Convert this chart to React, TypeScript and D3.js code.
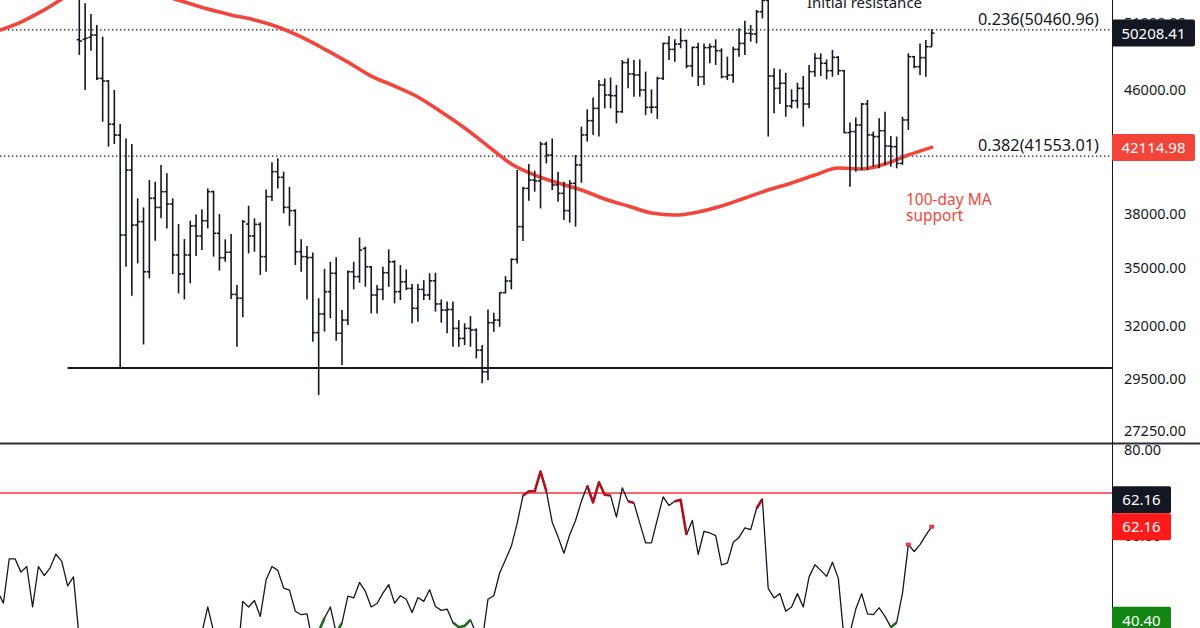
import React, { useRef, useEffect } from "react";
import * as d3 from "d3";

// daily OHLC bars: [open, high, low, close]
type Bar = [number, number, number, number];

const bars: Bar[] = [
  [49700, 53200, 48550, 49600], [49730, 52560, 46000, 49810], [49880, 51710, 48870, 50060],
  [50060, 50840, 46710, 46830], [46830, 49930, 43810, 46640], [46640, 46710, 42160, 43640],
  [43640, 46000, 42330, 42920], [42920, 43650, 30000, 36800], [36800, 42700, 35050, 40670],
  [40670, 42330, 33520, 37370], [37370, 38940, 35230, 37570], [37570, 38400, 31100, 34780],
  [34780, 40050, 34430, 38940], [38940, 39950, 36480, 38400], [38400, 40990, 37760, 39340],
  [39340, 40470, 37180, 38600], [38600, 38940, 34660, 35690], [35690, 37430, 33640, 34660],
  [34660, 36580, 33330, 35690], [35690, 37620, 34170, 37320], [37320, 37990, 35630, 36750],
  [36750, 38290, 35960, 37620], [37620, 39540, 37180, 39340], [39340, 39400, 35600, 36900],
  [36900, 38010, 34840, 35540], [35540, 36560, 35320, 35840], [35840, 36860, 33350, 33590],
  [33590, 34080, 30990, 33390], [33390, 37660, 32430, 37570], [37430, 38500, 35780, 36750],
  [36750, 37760, 35870, 37410], [37410, 37530, 34610, 35600], [35600, 39480, 34780, 39040],
  [39040, 41160, 38780, 40570], [40570, 41410, 39540, 40220], [40220, 40570, 38050, 38400],
  [38400, 39640, 37320, 38210], [38210, 38290, 35140, 35870], [35870, 36560, 34780, 35600],
  [35600, 36190, 33330, 35550], [35550, 35820, 31230, 31670], [31670, 33390, 28770, 32590],
  [32590, 34940, 31720, 33730], [33730, 35320, 32380, 34700], [34700, 35560, 31280, 31640],
  [31640, 32790, 30130, 32290], [32290, 34850, 32050, 34780], [34780, 35320, 33850, 34520],
  [34520, 36660, 34200, 35960], [36050, 36150, 33990, 35050], [35050, 35090, 32620, 33560],
  [33560, 34080, 32620, 33850], [33850, 35050, 33300, 34730], [34730, 36000, 33990, 35320],
  [35320, 35400, 33130, 33730], [33730, 35140, 33300, 34250], [34250, 34910, 33820, 33900],
  [33900, 34130, 32130, 32880], [32880, 34130, 32210, 33850], [33850, 34340, 33300, 33560],
  [33560, 34700, 33300, 34300], [34300, 34730, 32710, 33100], [33100, 33330, 32160, 32790],
  [32790, 33220, 31640, 32820], [32820, 33220, 30990, 31880], [31880, 32290, 30990, 31390],
  [31390, 32130, 31070, 31880], [31880, 32490, 30990, 31800], [31800, 31880, 30440, 30830],
  [30830, 31070, 29300, 29820], [29820, 32820, 29440, 32160], [32160, 32660, 31720, 32290],
  [32290, 33700, 31960, 33680], [33680, 34550, 33650, 34290], [34290, 35500, 33850, 35450],
  [35450, 40670, 35230, 37280], [37280, 39640, 36460, 39540], [39540, 41050, 38800, 40050],
  [40050, 40630, 39340, 40000], [40000, 42490, 38340, 42330], [42330, 42490, 41090, 41620],
  [41620, 42700, 39440, 39750], [39750, 40570, 38740, 39240], [39240, 39950, 37660, 38210],
  [38210, 40050, 37510, 39850], [39850, 41620, 37280, 40990], [40990, 43480, 39890, 42930],
  [42930, 44650, 42490, 43880], [43880, 45480, 42930, 44720], [44720, 46710, 42820, 46360],
  [46360, 46830, 44720, 45650], [45650, 46900, 44720, 45600], [45600, 46360, 43700, 44490],
  [44490, 48170, 44420, 47980], [47980, 48300, 46120, 47150], [47150, 48170, 45530, 47080],
  [47080, 48220, 45530, 46000], [46000, 47320, 44260, 44790], [44790, 46050, 44380, 44800],
  [44800, 46950, 43990, 46830], [46830, 49470, 46710, 49420], [49420, 49990, 48170, 48970],
  [48970, 49730, 48050, 49370], [49370, 50580, 49050, 49630], [49630, 49700, 47560, 47730],
  [47730, 49170, 46950, 49120], [49120, 49470, 46290, 46950], [46950, 49420, 46360, 49100],
  [49100, 49420, 47930, 49170], [49170, 49730, 47810, 48870], [48870, 49050, 46830, 46950],
  [46950, 48420, 46710, 47070], [47070, 49170, 46520, 48970], [48970, 50580, 48420, 49420],
  [49420, 51180, 48550, 50190], [50190, 50840, 49550, 50140], [50140, 52030, 49420, 51890],
  [51890, 53300, 51360, 52800], [52800, 53300, 42820, 47000], [47000, 47560, 44380, 46120],
  [46120, 47490, 45020, 46480], [46480, 47240, 44150, 44880], [44880, 46050, 44720, 45250],
  [45250, 46520, 44720, 46120], [46120, 47000, 43480, 45020], [45020, 47810, 44720, 47320],
  [47320, 48670, 46950, 48300], [48300, 48670, 47000, 47930], [47930, 48220, 46760, 47390],
  [47390, 48920, 46950, 48370], [48370, 48470, 47070, 47390], [47390, 47440, 43040, 43080],
  [43080, 43750, 39640, 43150], [43150, 44100, 40570, 43590], [43590, 45100, 40670, 45020],
  [45020, 45300, 40670, 42930], [42930, 43150, 40880, 42820], [42820, 44040, 40780, 43210],
  [43210, 44490, 40990, 42200], [42200, 42860, 40880, 42160], [42160, 42820, 40780, 41090],
  [41090, 44150, 41000, 43930], [43930, 48670, 43260, 48420], [48420, 48470, 47560, 47680],
  [47680, 49420, 47070, 48350], [48350, 49680, 46950, 49170], [49170, 50500, 49170, 50208.41],
];

// 100-day moving average, read every 4th bar (bar index, value)
const maIdx = [
  -14, -10, -6, -2, 2, 6, 10, 14, 18, 22, 26, 30, 34, 38, 42, 46, 50, 54, 58, 62, 66,
  70, 74, 78, 82, 86, 90, 94, 98, 102, 106, 110, 114, 118, 122, 126, 130, 134, 138, 142, 146,
];
const maValues = [
  50370, 51070, 52030, 53160, 53820, 53980, 53650, 53240, 52670, 52100, 51630, 51230, 50680,
  49910, 48990, 48020, 47000, 46280, 45510, 44470, 43390, 42200, 41050, 40360, 39870, 39440,
  38900, 38480, 38070, 37950, 38130, 38480, 38960, 39440, 39870, 40360, 40800, 40740, 41050,
  41620, 42114.98,
];

// RSI, one value per bar starting 14 bars before the first drawn bar
const rsiStart = -14;
const rsiValues = [
  47.1, 44.4, 54.7, 54.7, 51.6, 52.9, 43.5, 52.9, 50.8, 52.6, 55.8, 54.1, 48.4, 50.5,
  36, 37, 38, 30, 29, 25, 24, 19, 30, 27, 27, 23, 31, 32, 34, 33, 29, 27, 30, 33, 32,
  37.5, 43.5, 37.8, 34.5, 35, 31, 30, 44.8, 43.5, 45.0, 41.3, 49.8, 52.9, 52.0, 47.9, 47.4,
  42.5, 41.7, 41.9, 35, 37.8, 40.9, 43.5, 37.5, 39.8, 46.0, 45.6, 49.2, 47.1, 43.5, 44.3,
  46.7, 48.7, 44.4, 46.1, 45.3, 42.2, 45.7, 44.8, 47.5, 43.6, 42.7, 43.0, 39.9, 38.8, 39.1,
  40.5, 37.2, 35.5, 45.3, 46.1, 51.4, 54.5, 57.6, 63.0, 69.4, 70.4, 70.4, 75.0, 70.4, 63.2,
  59.8, 56.0, 60.3, 63.6, 68.1, 71.7, 67.8, 72.5, 69.6, 69.4, 64.4, 71.2, 68.1, 67.7, 63.0,
  58.4, 58.4, 63.8, 69.1, 67.1, 68.1, 68.4, 60.3, 63.6, 55.7, 61.1, 60.7, 60.1, 53.3, 53.7,
  58.5, 59.7, 61.9, 61.5, 66.4, 68.6, 47.8, 45.6, 46.6, 42.5, 43.5, 46.6, 43.5, 50.5, 53.3,
  52.0, 50.6, 53.9, 50.2, 36, 37.5, 43.0, 46.6, 41.9, 41.7, 43.3, 41.3, 38.8, 39.9, 46.7,
  58.0, 56.4, 58.0, 60.2, 62.16,
];
const rsiRedSpans: [number, number][] = [
  [76, 80], [87, 91], [94, 95], [102, 104], [116, 117], [142, 142], [146, 146],
];
const rsiGreenSpans: [number, number][] = [[41, 42], [44, 45], [64, 67], [139, 140]];

const priceTicks = [27250, 29500, 32000, 35000, 38000, 42000, 46000, 51000];
const rsiTicks = [40, 60, 80];
const fibLevels = [
  { ratio: "0.236", price: 50460.96 },
  { ratio: "0.382", price: 41553.01 },
];
const supportPrice = 30000;
const supportFrom = -2;
const rsiLevel = 70;
const lastPrice = 50208.41;
const lastMa = 42114.98;
const lastRsi = 62.16;
const rsiMark = 40.4;

const App: React.FC = () => {
  const svgRef = useRef<SVGSVGElement>(null);

  useEffect(() => {
    if (!svgRef.current) return;
    const svg = d3.select(svgRef.current);
    svg.selectAll("*").remove();

    const font = "'Noto Sans', sans-serif";
    const ink = "#131722";
    const maRed = "#f2463a";
    const axisX = 1112;
    const paneBottom = 443;

    const x = d3.scaleLinear().domain([0, bars.length - 1]).range([79.3, 931.7]);
    const y = d3.scaleLog().domain([26726, 52832]).range([paneBottom, 0]);
    const yr = d3.scaleLinear().domain([30, 80]).range([665, 450]);

    svg.append("rect").attr("width", 1200).attr("height", 628).attr("fill", "#fff");

    const defs = svg.append("defs");
    defs.append("clipPath").attr("id", "clip-main")
      .append("rect").attr("x", 0).attr("y", 0).attr("width", axisX).attr("height", paneBottom);
    defs.append("clipPath").attr("id", "clip-rsi")
      .append("rect").attr("x", 0).attr("y", paneBottom + 1).attr("width", axisX).attr("height", 628 - paneBottom);

    const main = svg.append("g").attr("clip-path", "url(#clip-main)");

    // fib retracement levels
    fibLevels.forEach((f) => {
      main.append("line")
        .attr("x1", 0).attr("x2", axisX)
        .attr("y1", y(f.price)).attr("y2", y(f.price))
        .attr("stroke", ink).attr("stroke-width", 1.4)
        .attr("stroke-dasharray", "1.4 2.6");
      main.append("text")
        .attr("x", 1099).attr("y", y(f.price) - 5)
        .attr("text-anchor", "end")
        .attr("font-family", font).attr("font-size", 16.3).attr("fill", ink)
        .text(`${f.ratio}(${f.price.toFixed(2)})`);
    });

    // support line
    main.append("line")
      .attr("x1", x(supportFrom)).attr("x2", axisX)
      .attr("y1", y(supportPrice)).attr("y2", y(supportPrice))
      .attr("stroke", ink).attr("stroke-width", 2);

    // 100-day MA
    const maLine = d3.line<number>()
      .x((_, i) => x(maIdx[i]))
      .y((d) => y(d))
      .curve(d3.curveMonotoneX);
    main.append("path")
      .attr("d", maLine(maValues) ?? "")
      .attr("fill", "none").attr("stroke", maRed).attr("stroke-width", 3.6)
      .attr("stroke-linecap", "round");

    // OHLC bars
    const tick = 2.6;
    const g = main.append("g").attr("stroke", ink).attr("stroke-width", 1.6);
    bars.forEach((b, i) => {
      const [o, h, l, c] = b;
      const cx = x(i);
      g.append("line").attr("x1", cx).attr("x2", cx).attr("y1", y(h)).attr("y2", y(l));
      g.append("line").attr("x1", cx - tick).attr("x2", cx).attr("y1", y(o)).attr("y2", y(o));
      g.append("line").attr("x1", cx).attr("x2", cx + tick).attr("y1", y(c)).attr("y2", y(c));
    });

    // annotations
    main.append("text")
      .attr("x", 807).attr("y", 8)
      .attr("font-family", font).attr("font-size", 15).attr("fill", ink)
      .text("Initial resistance");
    const note = main.append("text")
      .attr("font-family", font).attr("font-size", 15.5).attr("fill", maRed);
    note.append("tspan").attr("x", 906).attr("y", 205).text("100-day MA");
    note.append("tspan").attr("x", 906).attr("y", 221).text("support");

    // RSI pane
    const rsi = svg.append("g").attr("clip-path", "url(#clip-rsi)");
    rsi.append("line")
      .attr("x1", 0).attr("x2", axisX)
      .attr("y1", yr(rsiLevel)).attr("y2", yr(rsiLevel))
      .attr("stroke", "#f23645").attr("stroke-width", 1.5);

    const rsiLine = d3.line<number>()
      .x((_, i) => x(rsiStart + i))
      .y((d) => yr(d));
    rsi.append("path")
      .attr("d", rsiLine(rsiValues) ?? "")
      .attr("fill", "none").attr("stroke", ink).attr("stroke-width", 1.3)
      .attr("stroke-linejoin", "round");

    const spanLine = d3.line<number>().x((d) => x(d)).y((d) => yr(rsiValues[d - rsiStart]));
    const drawSpans = (spans: [number, number][], color: string) => {
      spans.forEach(([a, b]) => {
        if (a === b) {
          rsi.append("rect")
            .attr("x", x(a) - 2.5).attr("y", yr(rsiValues[a - rsiStart]) - 2)
            .attr("width", 5).attr("height", 4).attr("fill", "#f23645");
        } else {
          rsi.append("path")
            .attr("d", spanLine(d3.range(a, b + 1)) ?? "")
            .attr("fill", "none").attr("stroke", color).attr("stroke-width", 2.6)
            .attr("stroke-linejoin", "round");
        }
      });
    };
    drawSpans(rsiRedSpans, "#b0121b");
    drawSpans(rsiGreenSpans, "#1e6b1e");

    // pane separator and price axis line
    svg.append("line")
      .attr("x1", 0).attr("x2", 1200).attr("y1", paneBottom + 0.5).attr("y2", paneBottom + 0.5)
      .attr("stroke", "#2a2e39").attr("stroke-width", 2);
    svg.append("line")
      .attr("x1", axisX + 0.5).attr("x2", axisX + 0.5).attr("y1", 0).attr("y2", 628)
      .attr("stroke", ink).attr("stroke-width", 1);

    // axis labels
    priceTicks.forEach((t) => {
      svg.append("text")
        .attr("x", 1124).attr("y", y(t)).attr("dy", "0.36em")
        .attr("font-family", font).attr("font-size", 14.5).attr("fill", ink)
        .text(t.toFixed(2));
    });
    rsiTicks.forEach((t) => {
      svg.append("text")
        .attr("x", 1124).attr("y", yr(t)).attr("dy", "0.36em")
        .attr("font-family", font).attr("font-size", 14.5).attr("fill", ink)
        .text(t.toFixed(2));
    });

    // value badges on the axis
    const badge = (cy: number, w: number, fill: string, label: string) => {
      svg.append("rect")
        .attr("x", axisX).attr("y", cy - 13.5).attr("width", w).attr("height", 27)
        .attr("rx", 2).attr("fill", fill);
      svg.append("text")
        .attr("x", axisX + w / 2).attr("y", cy).attr("dy", "0.36em")
        .attr("text-anchor", "middle")
        .attr("font-family", font).attr("font-size", 15).attr("fill", "#fff")
        .text(label);
    };
    badge(y(lastPrice), 83, ink, lastPrice.toFixed(2));
    badge(y(lastMa), 83, "#f24437", lastMa.toFixed(2));
    badge(yr(lastRsi) - 27, 59, ink, lastRsi.toFixed(2));
    badge(yr(lastRsi), 59, "#ff1a1a", lastRsi.toFixed(2));
    badge(yr(rsiMark), 59, "#138513", rsiMark.toFixed(2));
  }, []);

  return (
    <svg
      ref={svgRef}
      width={1200}
      height={628}
      style={{ position: "absolute", left: 0, top: 0, display: "block" }}
    />
  );
};

export default App;
